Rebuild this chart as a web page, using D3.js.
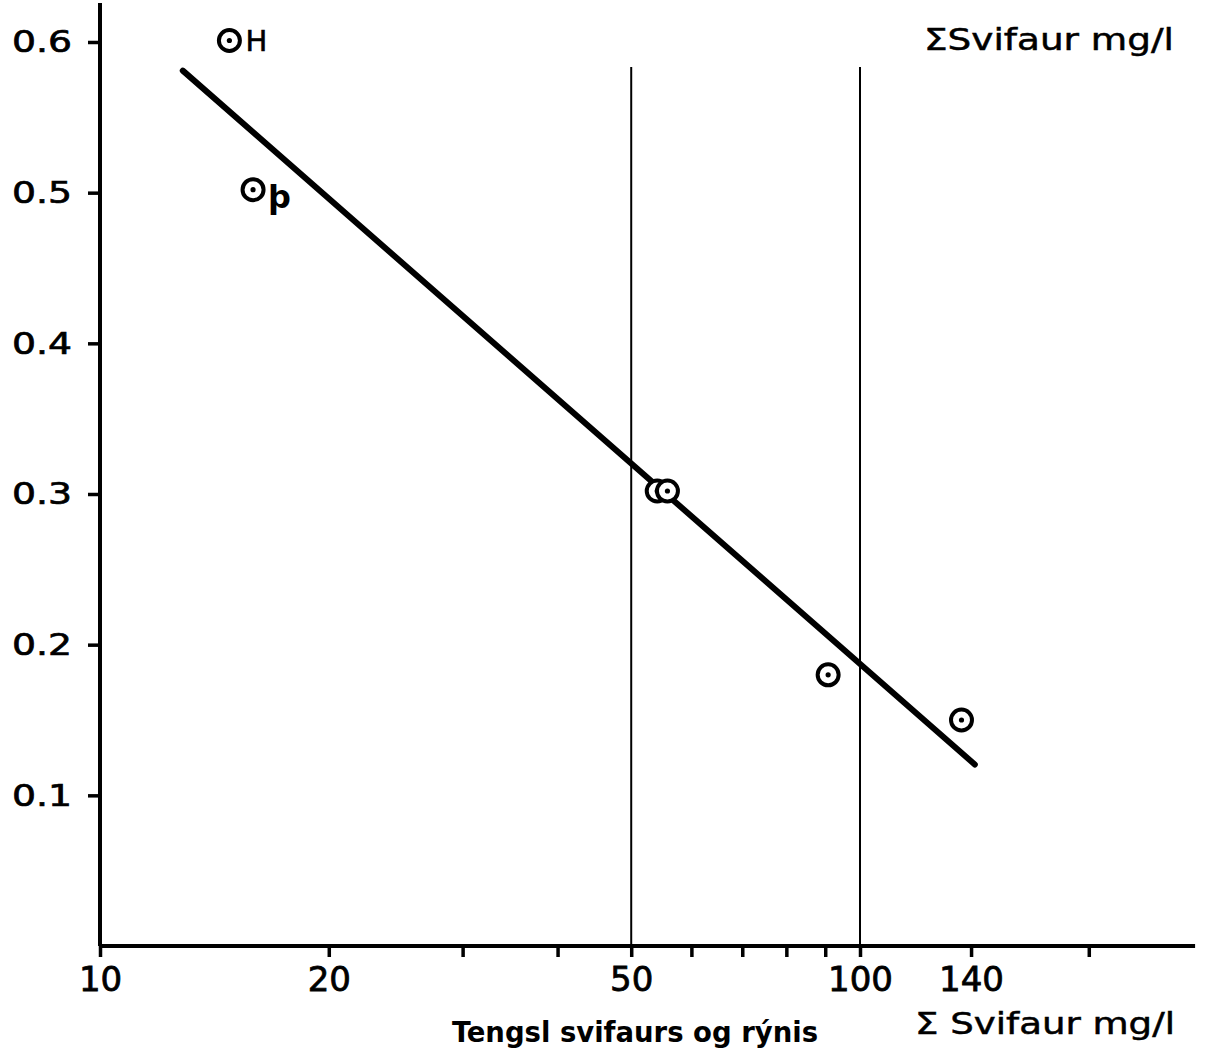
<!DOCTYPE html>
<html><head><meta charset="utf-8">
<script src="https://cdn.jsdelivr.net/npm/d3@7"></script>
<style>body{margin:0;background:#fff}svg{display:block}</style>
</head><body>
<script>
// Data
const pointX = [14.8, 15.9, 54.1, 55.8, 90.8, 136];
const pointY = [0.601, 0.502, 0.302, 0.302, 0.180, 0.150];
const pointLabels = ["H", "þ", "", "", "", ""];
const fitX = [12.85, 141.6];
const fitY = [0.581, 0.1205];
const refLinesX = [50, 100];
const xTickValues = [10, 20, 30, 40, 50, 60, 70, 80, 90, 100, 140, 200];
const xTickLabels = [10, 20, 50, 100, 140];
const yTickValues = [0.1, 0.2, 0.3, 0.4, 0.5, 0.6];

const W = 1210, H = 1056;
const svg = d3.select("body").append("svg").attr("width", W).attr("height", H);
const x = d3.scaleLog().domain([10, 100]).range([100, 860]);
const y = d3.scaleLinear().domain([0, 0.6]).range([946, 42]);
const font = "'DejaVu Sans', sans-serif";

// reference vertical lines
svg.selectAll(".ref").data(refLinesX).enter().append("line")
  .attr("x1", d => x(d)).attr("x2", d => x(d))
  .attr("y1", 67).attr("y2", y(0))
  .attr("stroke", "#000").attr("stroke-width", 2);

// X axis
const xAxis = d3.axisBottom(x).tickValues(xTickValues).tickSize(11)
  .tickFormat(d => xTickLabels.includes(d) ? d : "");
const gx = svg.append("g").attr("transform", `translate(0,${y(0)})`).call(xAxis);
gx.select(".domain").attr("d", `M100,0H${x(276)}`).attr("stroke-width", 4);
gx.selectAll(".tick line").attr("stroke-width", 3.5);
gx.selectAll(".tick text").attr("font-family", font).attr("font-size", 34)
  .attr("y", 21).attr("dy", "0.71em").attr("fill", "#000")
  .attr("stroke", "#000").attr("stroke-width", 0.8);

// Y axis
const yAxis = d3.axisLeft(y).tickValues(yTickValues).tickSize(12)
  .tickFormat(d3.format(".1f"));
const gy = svg.append("g").attr("transform", `translate(100,0)`).call(yAxis);
gy.select(".domain").attr("d", `M0,3V${y(0)}`).attr("stroke-width", 4);
gy.selectAll(".tick line").attr("stroke-width", 3.5);
gy.selectAll(".tick text").attr("font-family", font).attr("font-size", 31)
  .attr("x", -28).attr("fill", "#000")
  .attr("stroke", "#000").attr("stroke-width", 0.7)
  .attr("textLength", 60).attr("lengthAdjust", "spacingAndGlyphs");

// Fit line
const line = d3.line().x(d => x(d[0])).y(d => y(d[1]));
svg.append("path").datum(d3.zip(fitX, fitY)).attr("d", line)
  .attr("stroke", "#000").attr("stroke-width", 6).attr("fill", "none")
  .attr("stroke-linecap", "round");

// Points
const pts = d3.zip(pointX, pointY, pointLabels);
const g = svg.selectAll(".pt").data(pts).enter().append("g")
  .attr("transform", d => `translate(${x(d[0])},${y(d[1])})`);
g.append("circle").attr("r", 10.5).attr("fill", "#fff").attr("stroke", "#000").attr("stroke-width", 4);
g.append("circle").attr("r", 2.6).attr("fill", "#000");
g.filter(d => d[2] === "H").append("text").text(d => d[2])
  .attr("x", 16).attr("y", 11).attr("font-family", font).attr("font-size", 29)
  .attr("stroke", "#000").attr("stroke-width", 0.6);
g.filter(d => d[2] === "þ").append("text").text(d => d[2])
  .attr("x", 15).attr("y", 18).attr("font-family", font).attr("font-size", 32).attr("font-weight", "bold");

// Titles
svg.append("text").text("ΣSvifaur mg/l").attr("x", 924).attr("y", 50)
  .attr("font-family", font).attr("font-size", 30)
  .attr("stroke", "#000").attr("stroke-width", 0.5)
  .attr("textLength", 250).attr("lengthAdjust", "spacingAndGlyphs");
svg.append("text").text("Σ Svifaur mg/l").attr("x", 915).attr("y", 1034)
  .attr("font-family", font).attr("font-size", 30)
  .attr("stroke", "#000").attr("stroke-width", 0.5)
  .attr("textLength", 260).attr("lengthAdjust", "spacingAndGlyphs");
svg.append("text").text("Tengsl svifaurs og rýnis").attr("x", 452).attr("y", 1042)
  .attr("font-family", "'DejaVu Sans Condensed', 'DejaVu Sans', sans-serif")
  .attr("font-weight", "bold").attr("font-size", 28)
  .attr("textLength", 366).attr("lengthAdjust", "spacingAndGlyphs");
</script>
</body></html>
